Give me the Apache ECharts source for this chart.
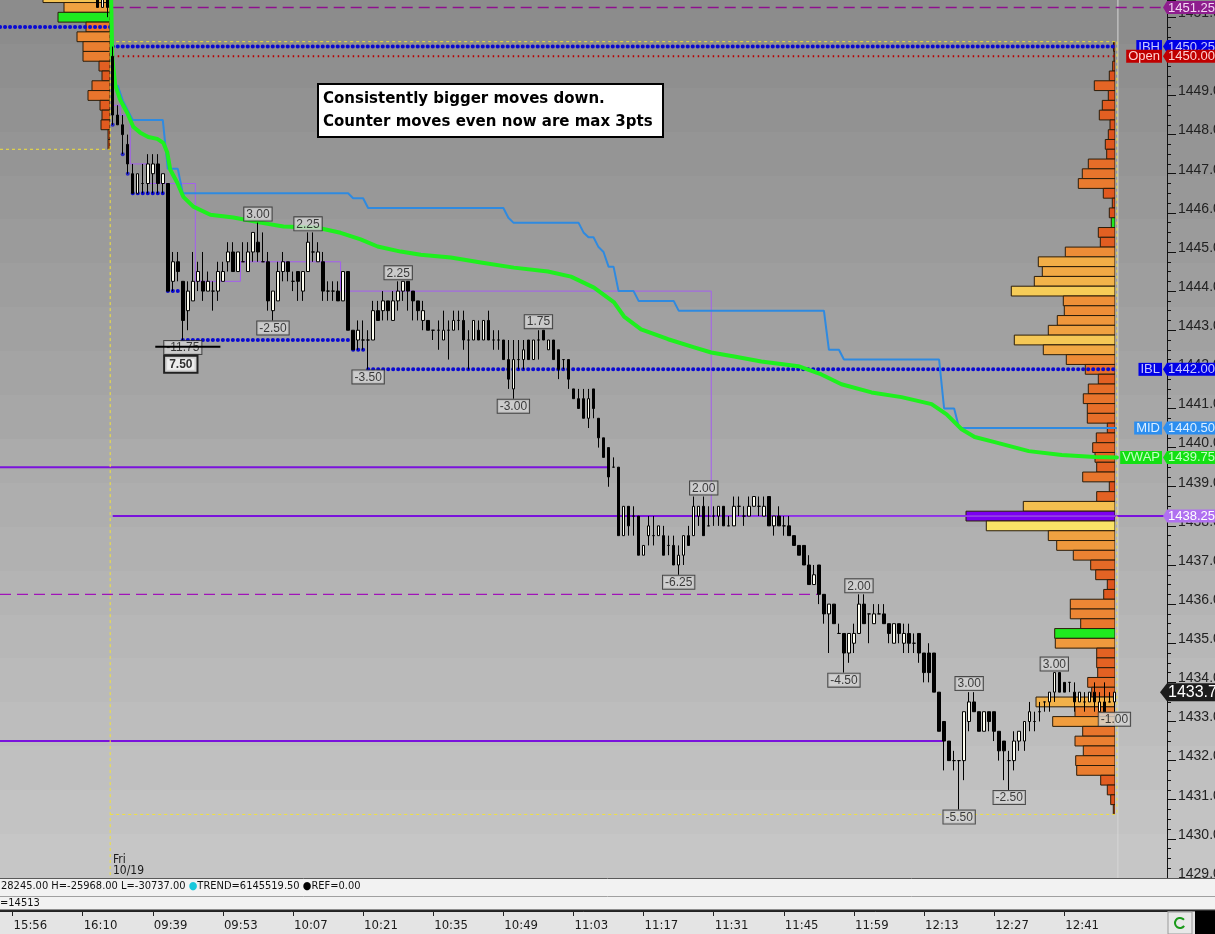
<!DOCTYPE html>
<html>
<head>
<meta charset="utf-8">
<title>ES 1-min chart</title>
<script src="https://cdn.jsdelivr.net/npm/echarts@6.0.0/dist/echarts.min.js"></script>
<style>
html,body{margin:0;padding:0;overflow:hidden;background:#c0c0c0}
#chart{width:1215px;height:934px}
</style>
</head>
<body>
<div id="chart"></div>
<script>
// ================= DATA =================
// previous session bars visible at the top-left edge  [open, high, low, close]
const PREV_TIMES = ['16:13', '16:14', '16:15'];
const PREV_OHLC = [[1451.5, 1451.5, 1451.25, 1451.25], [1451.25, 1451.5, 1451.25, 1451.5], [1451.5, 1451.5, 1451.0, 1451.25]];

// current session 1-minute bars from 09:31  [open, high, low, close]
const SESSION_OHLC = [
  [1450, 1450.25, 1448.25, 1448.5], [1448.5, 1448.75, 1448.25, 1448.25], [1448.25, 1448.5, 1447.5, 1448], [1447.75, 1448, 1447, 1447.25], [1447, 1447.25, 1446.5, 1446.5],
  [1446.5, 1447, 1446.5, 1447], [1446.75, 1447.25, 1446.5, 1446.75], [1446.75, 1447.5, 1446.5, 1447.25], [1447, 1447.5, 1446.5, 1447.25], [1447.25, 1447.5, 1446.5, 1446.75],
  [1446.75, 1447, 1446.5, 1447], [1446.75, 1446.75, 1444, 1444], [1444.25, 1445, 1444, 1444.75], [1444.75, 1445, 1444.25, 1444.5], [1444.25, 1444.25, 1442.75, 1443.25],
  [1443.5, 1444.25, 1443, 1444], [1443.75, 1445, 1443.75, 1444.25], [1444.25, 1444.75, 1444, 1444.5], [1444.25, 1445, 1443.75, 1444], [1444, 1444.5, 1444, 1444.25],
  [1444, 1444.25, 1443.5, 1444], [1444, 1444.75, 1443.75, 1444.5], [1444.25, 1444.75, 1444.25, 1444.5], [1444.75, 1445.25, 1444.5, 1445], [1445, 1445.25, 1444.5, 1444.5],
  [1444.5, 1445, 1444.5, 1445], [1444.75, 1445.25, 1444.75, 1444.75], [1444.5, 1445.25, 1444.5, 1445], [1445, 1445.5, 1444.75, 1445.5], [1445.25, 1445.75, 1444.75, 1445],
  [1444.75, 1445.5, 1444.75, 1444.75], [1444.75, 1445, 1443.5, 1443.75], [1443.5, 1444, 1443.25, 1444], [1443.75, 1444.75, 1443.75, 1444.5], [1444.5, 1445, 1444.25, 1444.75],
  [1444.75, 1444.75, 1444.25, 1444.5], [1444.25, 1444.5, 1444, 1444.25], [1444.5, 1444.5, 1443.75, 1444.25], [1444, 1444.5, 1443.75, 1444.5], [1444.5, 1445.5, 1444.5, 1445.25],
  [1445, 1445.5, 1444.75, 1445], [1444.75, 1445.25, 1444.75, 1445], [1444.75, 1445, 1443.75, 1444], [1444, 1444.25, 1443.75, 1444], [1444, 1444.25, 1443.75, 1444],
  [1444, 1444.25, 1443.75, 1443.75], [1443.75, 1444.5, 1443.75, 1444.5], [1444.5, 1444.5, 1443, 1443], [1443, 1443, 1442.5, 1442.5], [1442.75, 1443.25, 1442.5, 1443],
  [1442.75, 1443.25, 1442.5, 1442.75], [1442.75, 1443, 1442, 1442.75], [1442.75, 1443.75, 1442.75, 1443.5], [1443.5, 1443.75, 1443.25, 1443.25], [1443.5, 1444, 1443.25, 1443.75],
  [1443.75, 1443.75, 1443.25, 1443.5], [1443.25, 1444, 1443.25, 1443.75], [1443.75, 1444.25, 1443.5, 1444], [1444, 1444.25, 1443.75, 1444.25], [1444.25, 1444.25, 1443.5, 1444],
  [1444, 1444, 1443.25, 1443.75], [1443.75, 1443.75, 1443.25, 1443.5], [1443.25, 1443.75, 1443, 1443.5], [1443.25, 1443.25, 1443, 1443], [1443, 1443, 1442.75, 1443],
  [1443, 1443.25, 1442.5, 1443], [1442.75, 1443.5, 1442.75, 1443], [1443, 1443.25, 1442.25, 1443], [1443, 1443.5, 1443, 1443.25], [1443.25, 1443.5, 1443, 1443.25],
  [1443.25, 1443.5, 1442.5, 1442.75], [1442.75, 1443, 1442, 1442.75], [1442.75, 1443.25, 1442.75, 1443.25], [1443, 1443.25, 1442.75, 1442.75], [1442.75, 1443.25, 1442.75, 1443.25],
  [1443.25, 1443.5, 1442.75, 1442.75], [1442.75, 1443, 1442.5, 1442.75], [1442.75, 1443, 1442.5, 1442.75], [1442.75, 1442.75, 1442.25, 1442.25], [1442.25, 1442.75, 1441.5, 1441.75],
  [1441.5, 1442.75, 1441.25, 1442.25], [1442.25, 1442.75, 1442, 1442.25], [1442.25, 1442.75, 1442, 1442.5], [1442.75, 1442.75, 1442.25, 1442.25], [1442.25, 1442.75, 1442.25, 1442.75],
  [1442.75, 1443, 1442.25, 1442.75], [1443, 1443, 1442.75, 1442.75], [1442.5, 1442.75, 1442.5, 1442.75], [1442.75, 1442.75, 1442.25, 1442.25], [1442.5, 1442.5, 1441.75, 1442],
  [1442.25, 1442.25, 1442, 1442.25], [1442.25, 1442.25, 1441.5, 1441.75], [1441.5, 1441.5, 1441.25, 1441.25], [1441.25, 1441.5, 1441, 1441], [1441.25, 1441.5, 1440.75, 1440.75],
  [1440.75, 1441.5, 1440.5, 1441.25], [1441.5, 1441.5, 1440.75, 1441], [1440.75, 1440.75, 1440, 1440.25], [1440.25, 1440.25, 1439.75, 1439.75], [1440, 1440, 1439, 1439.25],
  [1439.5, 1439.75, 1439.5, 1439.5], [1439.5, 1439.5, 1437.75, 1437.75], [1437.75, 1438.5, 1437.75, 1438.5], [1438.5, 1438.5, 1437.75, 1438], [1438.25, 1438.5, 1437.75, 1438.25],
  [1438.25, 1438.25, 1437.25, 1437.25], [1437.25, 1437.5, 1437.25, 1437.5], [1437.75, 1438.25, 1437.5, 1438], [1437.75, 1438.25, 1437.5, 1437.75], [1437.75, 1438, 1437.75, 1438],
  [1437.75, 1438, 1437.25, 1437.25], [1437.5, 1437.75, 1437.25, 1437.5], [1437.5, 1437.75, 1437, 1437], [1437, 1437.5, 1436.75, 1437.25], [1437.25, 1437.75, 1437, 1437.75],
  [1437.75, 1438, 1437.5, 1437.5], [1437.75, 1438.75, 1437.75, 1438.5], [1438.25, 1438.5, 1438, 1438.5], [1438.5, 1438.75, 1437.75, 1437.75], [1438, 1438.5, 1438, 1438],
  [1438.25, 1438.5, 1438, 1438.25], [1438.25, 1438.5, 1438, 1438.5], [1438.5, 1438.5, 1438, 1438], [1438, 1438.25, 1438, 1438], [1438, 1438.75, 1438, 1438.5],
  [1438.5, 1438.75, 1438.25, 1438.5], [1438.25, 1438.5, 1438, 1438.25], [1438.25, 1438.75, 1438.25, 1438.5], [1438.5, 1438.75, 1438.5, 1438.75], [1438.5, 1438.75, 1438.25, 1438.5],
  [1438.25, 1438.75, 1438.25, 1438.5], [1438.75, 1438.75, 1438, 1438], [1438, 1438.25, 1437.75, 1438.25], [1438.25, 1438.5, 1438, 1438], [1438, 1438.25, 1437.75, 1438],
  [1438, 1438.25, 1437.75, 1437.75], [1437.75, 1437.75, 1437.5, 1437.5], [1437.5, 1437.5, 1437.25, 1437.25], [1437.5, 1437.5, 1437, 1437], [1437, 1437.25, 1436.5, 1436.5],
  [1436.5, 1437, 1436.5, 1436.75], [1437, 1437, 1436, 1436.25], [1436.25, 1436.25, 1435.5, 1435.75], [1435.75, 1436, 1434.75, 1436], [1436, 1436, 1435.5, 1435.5],
  [1435.25, 1435.5, 1435.25, 1435.25], [1435.25, 1435.25, 1434.25, 1434.75], [1434.75, 1435.25, 1434.5, 1435.25], [1435, 1435.5, 1434.75, 1435.25], [1435.25, 1436.25, 1435.25, 1436],
  [1436, 1436.25, 1435.5, 1435.5], [1435.75, 1435.75, 1435, 1435.75], [1435.5, 1436, 1435.5, 1435.75], [1435.75, 1436, 1435.75, 1435.75], [1435.75, 1436, 1435.5, 1435.5],
  [1435.5, 1435.5, 1435, 1435.25], [1435, 1435.5, 1435, 1435.5], [1435.5, 1435.5, 1435, 1435.25], [1435, 1435.5, 1434.75, 1435.25], [1435.25, 1435.5, 1434.75, 1435],
  [1435, 1435.25, 1434.75, 1435], [1435.25, 1435.25, 1434.5, 1434.75], [1434.75, 1434.75, 1434, 1434.25], [1434.75, 1435, 1434, 1434.25], [1434.75, 1434.75, 1433.75, 1433.75],
  [1433.75, 1433.75, 1432.75, 1432.75], [1433, 1433, 1431.75, 1432.5], [1432.5, 1432.5, 1432, 1432], [1432, 1432.25, 1431.75, 1432], [1432, 1432, 1430.75, 1432],
  [1432, 1433.25, 1431.5, 1433.25], [1433, 1433.75, 1432.75, 1433.5], [1433.5, 1433.75, 1433.25, 1433.25], [1433.25, 1433.25, 1432.75, 1432.75], [1432.75, 1433.25, 1432.75, 1433.25],
  [1433.25, 1433.25, 1432.75, 1433], [1433.25, 1433.25, 1432.5, 1432.75], [1432.75, 1432.75, 1432, 1432.25], [1432.5, 1432.5, 1431.5, 1432.25], [1432, 1432.25, 1431.25, 1432],
  [1432, 1432.75, 1431.75, 1432.5], [1432.5, 1432.75, 1432.25, 1432.75], [1432.5, 1433, 1432.25, 1433], [1433, 1433.5, 1432.75, 1433.25], [1433, 1433.25, 1432.75, 1433],
  [1433.25, 1433.5, 1433, 1433.25], [1433.5, 1433.5, 1433.25, 1433.5], [1433.5, 1433.75, 1433.25, 1433.75], [1433.75, 1434.25, 1433.5, 1434.25], [1434.25, 1434.25, 1433.75, 1433.75],
  [1434, 1434, 1433.75, 1433.75], [1434, 1434, 1433.75, 1434], [1433.75, 1434, 1433.25, 1433.5], [1433.5, 1433.75, 1433.5, 1433.75], [1433.5, 1433.75, 1433.25, 1433.5],
  [1433.5, 1433.75, 1433.5, 1433.75], [1433.75, 1434, 1433.25, 1433.5], [1433.25, 1433.75, 1433.25, 1433.5], [1433.5, 1434, 1433.25, 1433.25], [1433.5, 1433.75, 1433.5, 1433.5],
  [1433.5, 1433.75, 1433.25, 1433.75]
];

// VWAP line, read as [bar offset from 09:31, price]
const VWAP_PTS = [[-0.3, 1451.44], [-0.1, 1450.0], [0.5, 1449.27], [1.5, 1448.89], [2.9, 1448.56], [4.1, 1448.2], [5.5, 1448.05], [7.1, 1447.94], [8.9, 1447.89], [10.1, 1447.79], [10.9, 1447.54], [11.5, 1447.1], [12.9, 1446.77], [14.1, 1446.41], [16.1, 1446.16], [19.5, 1445.95], [24.1, 1445.88], [29.5, 1445.75], [34.1, 1445.65], [40.9, 1445.62], [45.5, 1445.49], [49.5, 1445.32], [52.9, 1445.14], [57.5, 1445.01], [61.5, 1444.93], [67.5, 1444.86], [73.5, 1444.73], [80.1, 1444.6], [86.9, 1444.5], [91.5, 1444.37], [96.1, 1444.09], [100.1, 1443.71], [102.1, 1443.35], [105.5, 1443.02], [110.9, 1442.77], [116.1, 1442.56], [119.5, 1442.43], [124.1, 1442.33], [129.5, 1442.2], [136.9, 1442.08], [141.5, 1441.87], [145.5, 1441.62], [151.5, 1441.41], [157.5, 1441.29], [163.5, 1441.11], [166.5, 1440.85], [169.5, 1440.47], [172.1, 1440.27], [176.1, 1440.14], [182.9, 1439.91], [189.5, 1439.81], [196.1, 1439.76], [200.5, 1439.75]];
// range midpoint line (MID)
const MID_PTS = [[0.5, 1449.25], [1, 1449.25], [2, 1448.875], [3, 1448.625], [4, 1448.375], [10, 1448.375], [11, 1447.125], [13, 1447.125], [14, 1446.5], [47, 1446.5], [48, 1446.375], [50, 1446.375], [51, 1446.125], [78, 1446.125], [79, 1445.875], [80, 1445.75], [93, 1445.75], [94, 1445.5], [95, 1445.375], [96, 1445.375], [97, 1445.125], [98, 1445.0], [99, 1444.625], [100, 1444.625], [101, 1444.0], [104, 1444.0], [105, 1443.75], [112, 1443.75], [113, 1443.5], [142, 1443.5], [143, 1442.5], [145, 1442.5], [146, 1442.25], [165, 1442.25], [166, 1441.0], [168, 1441.0], [169, 1440.5], [200.5, 1440.5]];
// developing point of control (thin purple step line)
const DPOC_PTS = [[0, 1448.75], [1.5, 1448.75], [1.5, 1448.5], [3.5, 1448.5], [3.5, 1447.25], [7, 1447.25], [7, 1446.75], [16.5, 1446.75], [16.5, 1444.25], [25.5, 1444.25], [25.5, 1444.75], [45.5, 1444.75], [45.5, 1444.0], [119.5, 1444.0], [119.5, 1438.25], [200.5, 1438.25]];

// horizontal levels [from bar, to bar, price]
const IB_LEVELS = [[0, 200.5, 1450.25], [51, 200.5, 1442.0], [-22.5, -0.5, 1450.75]];
const SWING_LOW_LEVELS = [[4, 10, 1446.5], [11, 13, 1444.0], [14, 47, 1442.75], [48, 50, 1442.5]];
const SWING_LOW_DOTS = [[0, 1448.25], [2, 1447.5], [3, 1447.0]];
const OPEN_LEVEL = [[0, 200.5, 1450.0]];
const NAKED_SOLID = [[-22.5, 99, 1439.5], [-22.5, 166, 1432.5], [0, 210.5, 1438.25]];
const NAKED_DASHED = [[0, 210.5, 1451.25], [-22.5, 141, 1436.25]];
const RANGE_HIGH_EDGE = 1450.375, RANGE_LOW_EDGE = 1430.625, PREV_LOW_EDGE = 1447.625;

// swing annotations [bar, price, text]
const SWING_HIGHS = [[29, 1445.75, '3.00'], [39, 1445.5, '2.25'], [57, 1444.25, '2.25'], [85, 1443.0, '1.75'], [118, 1438.75, '2.00'], [149, 1436.25, '2.00'], [171, 1433.75, '3.00'], [188, 1434.25, '3.00']];
const SWING_LOWS = [[14, 1442.75, '-11.75'], [32, 1443.25, '-2.50'], [51, 1442.0, '-3.50'], [80, 1441.25, '-3.00'], [113, 1436.75, '-6.25'], [146, 1434.25, '-4.50'], [169, 1430.75, '-5.50'], [179, 1431.25, '-2.50'], [200, 1433.25, '-1.00']];
const RANGE_NOTE = [[13.6, 1442.13, '7.50']];
const STRIKE = [[8.5, 1442.58], [21.5, 1442.58]];

// volume profiles (relative volume per 0.25 row)
const RIGHT_PROFILE_TOP = 1450.25;
const RIGHT_PROFILE_VOL = [1.5,
  1, 2.3, 5.7, 20.7, 6.7, 12.7, 15.7, 5, 6.7, 9.7, 8.3, 26.7, 32.7, 36.7, 11.7, 2.7,
  5.7, 3.7, 16.7, 14.7, 49.7, 76.7, 72.7, 80.7, 103.7, 51.7, 50.7, 57.7, 66.7, 100.7, 71.7, 48.7,
  29.7, 16.7, 26.7, 31.7, 27.7, 27.7, 7.7, 18.7, 22.3, 20, 18.3, 32.3, 5.7, 18.3, 91.7, 149,
  128.7, 66.7, 58.3, 41.7, 24.3, 19.3, 7.7, 11.3, 44.7, 44.7, 34.3, 60.3, 59.7, 18.3, 18.3, 17.3,
  27.3, 23.3, 79, 40, 62.3, 32.3, 40, 31.7, 39.3, 38.3, 14.3, 7.7, 4.3, 1.7];
const RIGHT_GREEN_ROWS = [1445.75, 1435.25];
const RIGHT_POC = 1438.25;
const LEFT_PROFILE_TOP = 1451.5;
const LEFT_PROFILE_VOL = [67, 46, 52, 24, 33, 27, 27, 11, 8, 18, 22, 10, 8, 9, 2, 2];
const LEFT_GREEN_ROWS = [1451.0];

// price-axis tags
const TAG_LEVELS = [1451.25, 1450.25, 1450.00, 1442.00, 1440.50, 1439.75, 1438.25, 1433.75];
const TAG_NAMES = ['', 'IBH', 'Open', 'IBL', 'MID', 'VWAP', '', ''];

const NOTE_TEXT = 'Consistently bigger moves down.\nCounter moves even now are max 3pts';
const STATUS_1 = '28245.00 H=-25968.00 L=-30737.00 {c|●}TREND=6145519.50 {k|●}REF=0.00';
const STATUS_2 = '=14513';
const DATE_TEXT = 'Fri\n10/19';

// ================= BUILD =================
function hhmm(m) { return String(Math.floor(m / 60)).padStart(2, '0') + ':' + String(m % 60).padStart(2, '0'); }
const CATEGORIES = [];
for (let m = 15 * 60 + 54; m <= 16 * 60 + 15; m++) CATEGORIES.push(hhmm(m));
for (let m = 9 * 60 + 31; m <= 13 * 60 + 1; m++) CATEGORIES.push(hhmm(m));
const X0 = CATEGORIES.indexOf('09:31');
const LAST = X0 + SESSION_OHLC.length - 1;

const byTime = {};
PREV_TIMES.forEach((t, k) => byTime[t] = PREV_OHLC[k]);
SESSION_OHLC.forEach((r, k) => byTime[CATEGORIES[X0 + k]] = r);
const candleData = CATEGORIES.map(t => { const r = byTime[t]; return r ? [r[0], r[3], r[2], r[1]] : ['-', '-', '-', '-']; });

const Y_MIN = 1429, Y_MAX = 1451.44;
const FONT = '"Liberation Sans", Arial, sans-serif';
const NARROW = '"Liberation Sans Narrow", "DejaVu Sans Condensed", sans-serif';

const series = [];
function px(pts) { return pts.map(q => [X0 + q[0], q[1]]); }
function addLine(pts, ls, z, extra) {
  series.push(Object.assign({ type: 'line', xAxisIndex: 3, yAxisIndex: 0, data: px(pts), showSymbol: false, symbol: 'none',
    silent: true, animation: false, z: z, lineStyle: ls }, extra || {}));
}

// profiles
function profileItem(greens, poc) {
  return function (params, api) {
    const v = api.value(0), p = api.value(1);
    const a = api.coord([v, p + 0.125]), b = api.coord([0, p - 0.125]);
    let fill = api.visual('color');
    if (greens.indexOf(p) >= 0) fill = '#1fea1f';
    if (p === poc) fill = '#7c00f0';
    return { type: 'rect', shape: { x: a[0], y: a[1], width: b[0] - a[0], height: b[1] - a[1] },
      style: { fill: fill, stroke: '#2b1d0a', lineWidth: 1 } };
  };
}
series.push({ type: 'custom', xAxisIndex: 1, yAxisIndex: 1, clip: true, z: 1, silent: true, animation: false,
  data: RIGHT_PROFILE_VOL.map((v, k) => [v, RIGHT_PROFILE_TOP - 0.25 * k]), renderItem: profileItem(RIGHT_GREEN_ROWS, RIGHT_POC) });
series.push({ type: 'custom', xAxisIndex: 2, yAxisIndex: 2, clip: true, z: 1, silent: true, animation: false,
  data: LEFT_PROFILE_VOL.map((v, k) => [v, LEFT_PROFILE_TOP - 0.25 * k]), renderItem: profileItem(LEFT_GREEN_ROWS, null) });

// light "now" line
addLine([[200.7, 1452], [200.7, 1428]], { color: '#d6d6d6', width: 1 }, 1);
// yellow dashed range box
const yl = { color: '#f2e23a', width: 1, type: [3, 3] };
addLine([[-0.5, RANGE_HIGH_EDGE], [200.5, RANGE_HIGH_EDGE]], yl, 3);
addLine([[-0.5, RANGE_LOW_EDGE], [200.5, RANGE_LOW_EDGE]], yl, 3);
addLine([[-0.5, 1452], [-0.5, 1428]], yl, 3);
addLine([[200.5, RANGE_HIGH_EDGE], [200.5, RANGE_LOW_EDGE]], yl, 3);
addLine([[-22.5, PREV_LOW_EDGE], [-0.5, PREV_LOW_EDGE]], yl, 3);
// purple naked levels
NAKED_SOLID.forEach(s => addLine([[s[0], s[2]], [s[1], s[2]]], { color: '#7a12dc', width: 2 }, 2));
addLine([[NAKED_DASHED[0][0], NAKED_DASHED[0][2]], [NAKED_DASHED[0][1], NAKED_DASHED[0][2]]], { color: '#8e108e', width: 1.5, type: [11, 6] }, 2);
addLine([[NAKED_DASHED[1][0], NAKED_DASHED[1][2]], [NAKED_DASHED[1][1], NAKED_DASHED[1][2]]], { color: '#a014b8', width: 1.3, type: [11, 6] }, 2);
// developing POC
addLine(DPOC_PTS, { color: '#a45ef0', width: 1 }, 2);
// open level
OPEN_LEVEL.forEach(s => addLine([[s[0], s[2]], [s[1], s[2]]], { color: '#b80000', width: 2, type: [1.5, 3.5] }, 3));
// blue dotted levels
const dots = { color: '#0a0ad2', width: 4, type: [0.1, 4.9], cap: 'round' };
IB_LEVELS.concat(SWING_LOW_LEVELS).forEach(s => addLine([[s[0], s[2]], [s[1], s[2]]], dots, 3));
series.push({ type: 'scatter', xAxisIndex: 3, yAxisIndex: 0, data: px(SWING_LOW_DOTS), symbolSize: 4,
  itemStyle: { color: '#0a0ad2' }, silent: true, animation: false, z: 3 });
// MID and VWAP
addLine(MID_PTS, { color: '#2f8ae0', width: 2 }, 3);
addLine(VWAP_PTS, { color: '#1ef01e', width: 4, cap: 'round', join: 'round' }, 4);
// candles
series.push({ type: 'candlestick', xAxisIndex: 0, yAxisIndex: 0, data: candleData, barWidth: 3, z: 5, silent: true, animation: false,
  itemStyle: { color: '#fffff2', color0: '#000000', borderColor: '#000000', borderColor0: '#000000', borderWidth: 1 } });
// swing labels
const swingLabel = { show: true, formatter: '{b}', backgroundColor: '#d4d4d4', borderColor: '#2a2a2a', borderWidth: 1,
  padding: [1, 2, 0, 2], fontSize: 12, fontFamily: FONT, color: '#111', lineHeight: 12 };
series.push({ type: 'scatter', xAxisIndex: 3, yAxisIndex: 0, symbolSize: 0.1, itemStyle: { color: 'rgba(0,0,0,0)' }, silent: true, animation: false, z: 6,
  data: SWING_HIGHS.map(h => ({ value: [X0 + h[0], h[1]], name: h[2] })), label: Object.assign({ position: 'top', distance: 2 }, swingLabel) });
series.push({ type: 'scatter', xAxisIndex: 3, yAxisIndex: 0, symbolSize: 0.1, itemStyle: { color: 'rgba(0,0,0,0)' }, silent: true, animation: false, z: 6,
  data: SWING_LOWS.map(h => ({ value: [X0 + h[0], h[1]], name: h[2] })), label: Object.assign({ position: 'bottom', distance: 1 }, swingLabel) });
addLine(STRIKE, { color: '#000', width: 2 }, 7);
series.push({ type: 'scatter', xAxisIndex: 3, yAxisIndex: 0, symbolSize: 0.1, itemStyle: { color: 'rgba(0,0,0,0)' }, silent: true, animation: false, z: 7,
  data: RANGE_NOTE.map(h => ({ value: [X0 + h[0], h[1]], name: h[2] })),
  label: { show: true, position: 'inside', formatter: '{b}', backgroundColor: '#fff', borderColor: '#000', borderWidth: 2,
    padding: [2, 4, 1, 4], fontSize: 12, fontWeight: 'bold', fontFamily: FONT, color: '#000' } });

// price-axis tags
const TAG_STYLE = {
  'IBH': { bg: '#0000e6', fg: '#c8c8ff' }, 'Open': { bg: '#c00000', fg: '#ffd2d2' }, 'IBL': { bg: '#0000e6', fg: '#c8c8ff' },
  'MID': { bg: '#2c8ef0', fg: '#dcefff' }, 'VWAP': { bg: '#12e012', fg: '#c4ffc4' }
};
const TAG_PLAIN = { 1451.25: { bg: '#8e1e8e', fg: '#f4d8f4' }, 1438.25: { bg: '#b070f0', fg: '#ffffff' }, 1433.75: { bg: '#1c1c1c', fg: '#ffffff', big: true } };
const mctx = document.createElement('canvas').getContext('2d');
function tw(t, f) { mctx.font = f; return mctx.measureText(t).width; }
series.push({ type: 'custom', xAxisIndex: 3, yAxisIndex: 0, z: 20, silent: true, animation: false, clip: false,
  data: TAG_LEVELS.map(p => [0, p]),
  renderItem: function (params, api) {
    const i = params.dataIndex, p = api.value(1);
    const y = api.coord([0, p])[1];
    const ax = params.coordSys.x + params.coordSys.width;
    const W = api.getWidth();
    const name = TAG_NAMES[i];
    const st = name ? TAG_STYLE[name] : TAG_PLAIN[p];
    const big = !!st.big;
    const h = big ? 18 : 13, fs = big ? 16 : 13;
    const f = fs + 'px ' + FONT;
    const tip = ax - (big ? 7 : 4);
    const ch = [];
    ch.push({ type: 'polygon', shape: { points: [[tip, y], [ax, y - h / 2], [W, y - h / 2], [W, y + h / 2], [ax, y + h / 2]] }, style: { fill: st.bg } });
    ch.push({ type: 'text', style: { text: p.toFixed(2), x: ax + 1, y: y + 0.5, verticalAlign: 'middle', fill: st.fg, font: f } });
    if (name) {
      const w = tw(name, f) + 4;
      ch.push({ type: 'rect', shape: { x: tip - 1 - w, y: y - h / 2, width: w, height: h }, style: { fill: st.bg } });
      ch.push({ type: 'text', style: { text: name, x: tip - 1 - w + 2, y: y + 0.5, verticalAlign: 'middle', fill: st.fg, font: f } });
    }
    return { type: 'group', children: ch };
  } });

// background stepped gradient
const stops = [];
for (let b = 0; b < 20; b++) {
  const c = Math.round(140 + b * 3.05);
  const col = 'rgb(' + c + ',' + c + ',' + c + ')';
  stops.push({ offset: b / 20, color: col }, { offset: (b + 1) / 20, color: col });
}

const hiddenAxis = { show: false, axisLine: { show: false, onZero: false }, axisTick: { show: false }, minorTick: { show: false }, axisLabel: { show: false }, splitLine: { show: false }, minorSplitLine: { show: false } };

const option = {
  animation: false,
  backgroundColor: '#e8e8e8',
  grid: [
    { left: 0, right: 48, top: 0, height: 878, show: false, containLabel: false, outerBoundsMode: 'none' },
    { left: 0, right: 100, top: 0, height: 878, show: false, containLabel: false, outerBoundsMode: 'none' },
    { left: 0, width: 110, top: 0, height: 878, show: false, containLabel: false, outerBoundsMode: 'none' }
  ],
  visualMap: [
    { show: false, type: 'continuous', seriesIndex: 0, dimension: 0, min: 0, max: 130, inRange: { color: ['#dc4a18', '#e66c28', '#ee9038', '#f2b048', '#f6cc58', '#f9e468'] } },
    { show: false, type: 'continuous', seriesIndex: 1, dimension: 0, min: 0, max: 90, inRange: { color: ['#dc4a18', '#e66c28', '#ee9038', '#f2b048', '#f6cc58', '#f9e468'] } }
  ],
  xAxis: [
    { type: 'category', gridIndex: 0, data: CATEGORIES, boundaryGap: true, position: 'bottom', offset: 33,
      axisLine: { show: true, onZero: false, lineStyle: { color: '#1a1a1a', width: 1 } },
      axisTick: { show: true, alignWithLabel: true, length: 5, interval: (i) => (i - 2) % 14 === 0 && i <= LAST, lineStyle: { color: '#222' } },
      axisLabel: { interval: (i) => (i - 2) % 14 === 0 && i <= LAST, align: 'left', padding: [0, 0, 0, 1], margin: 8, color: '#1a1a1a', fontSize: 13, fontFamily: NARROW },
      splitLine: { show: false } },
    Object.assign({ type: 'value', gridIndex: 1, inverse: true, min: 0, max: 1115 }, hiddenAxis),
    Object.assign({ type: 'value', gridIndex: 2, inverse: true, min: 0, max: 110 }, hiddenAxis),
    Object.assign({ type: 'value', gridIndex: 0, min: -0.5, max: CATEGORIES.length - 0.5 }, hiddenAxis)
  ],
  yAxis: [
    { type: 'value', gridIndex: 0, position: 'right', min: Y_MIN, max: Y_MAX, interval: 1,
      axisLine: { show: true, onZero: false, lineStyle: { color: '#111' } },
      axisTick: { show: true, inside: false, length: 9, lineStyle: { color: '#111' } },
      minorTick: { show: true, splitNumber: 4, length: 4, lineStyle: { color: '#111' } },
      axisLabel: { formatter: v => v.toFixed(1), margin: 11, color: '#222', fontSize: 14, fontFamily: FONT, verticalAlign: 'bottom', lineHeight: 8, showMaxLabel: false },
      splitLine: { show: false }, minorSplitLine: { show: false } },
    Object.assign({ type: 'value', gridIndex: 1, min: Y_MIN, max: Y_MAX }, hiddenAxis),
    Object.assign({ type: 'value', gridIndex: 2, min: Y_MIN, max: Y_MAX }, hiddenAxis)
  ],
  graphic: { elements: [
    { type: 'rect', z: -100, silent: true, shape: { x: 0, y: 0, width: 1215, height: 878 },
      style: { fill: new echarts.graphic.LinearGradient(0, 0, 0, 1, stops) } },
    { type: 'rect', z: -50, silent: true, shape: { x: 0, y: 878, width: 1215, height: 33 }, style: { fill: '#f2f2f2' } },
    { type: 'rect', z: -50, silent: true, shape: { x: 0, y: 911, width: 1215, height: 23 }, style: { fill: '#e4e4e4' } },
    { type: 'line', z: 60, silent: true, shape: { x1: 0, y1: 878.5, x2: 1215, y2: 878.5 }, style: { stroke: '#5a5a5a', lineWidth: 1 } },
    { type: 'line', z: 60, silent: true, shape: { x1: 0, y1: 896.5, x2: 1215, y2: 896.5 }, style: { stroke: '#a0a0a0', lineWidth: 1 } },
    { type: 'line', z: 60, silent: true, shape: { x1: 0, y1: 910.5, x2: 1215, y2: 910.5 }, style: { stroke: '#2a2a2a', lineWidth: 2 } },
    { type: 'text', z: 60, silent: true, x: 1, y: 881, style: { text: STATUS_1, font: '11px ' + NARROW, fill: '#111', rich: { c: { fill: '#18c8dc', font: '11px ' + NARROW }, k: { fill: '#000', font: '11px ' + NARROW } } } },
    { type: 'text', z: 60, silent: true, x: 0, y: 898, style: { text: STATUS_2, font: '11px ' + NARROW, fill: '#111' } },
    { type: 'text', z: 60, silent: true, x: 113, y: 854, style: { text: DATE_TEXT, font: '12px ' + NARROW, fill: '#1a1a1a', lineHeight: 11 } },
    { type: 'rect', z: 60, silent: true, shape: { x: 318, y: 84, width: 345, height: 53 }, style: { fill: '#ffffff', stroke: '#000', lineWidth: 2 } },
    { type: 'text', z: 61, silent: true, x: 323, y: 88, style: { text: NOTE_TEXT, font: 'bold 15px "DejaVu Sans", sans-serif', fill: '#000', lineHeight: 23 } },
    { type: 'rect', z: 60, silent: true, shape: { x: 1168, y: 912, width: 24, height: 22 }, style: { fill: '#e8e8e8', stroke: '#9a9a9a', lineWidth: 1 } },
    { type: 'arc', z: 61, silent: true, shape: { cx: 1180, cy: 923, r: 5, startAngle: 0.6, endAngle: 5.6 }, style: { stroke: '#1a9a1a', lineWidth: 2, fill: null } },
    { type: 'rect', z: 60, silent: true, shape: { x: 1195, y: 911, width: 20, height: 23 }, style: { fill: '#000' } }
  ] },
  series: series
};

const chart = echarts.init(document.getElementById('chart'), null, { renderer: 'canvas' });
chart.setOption(option);
</script>
</body>
</html>
